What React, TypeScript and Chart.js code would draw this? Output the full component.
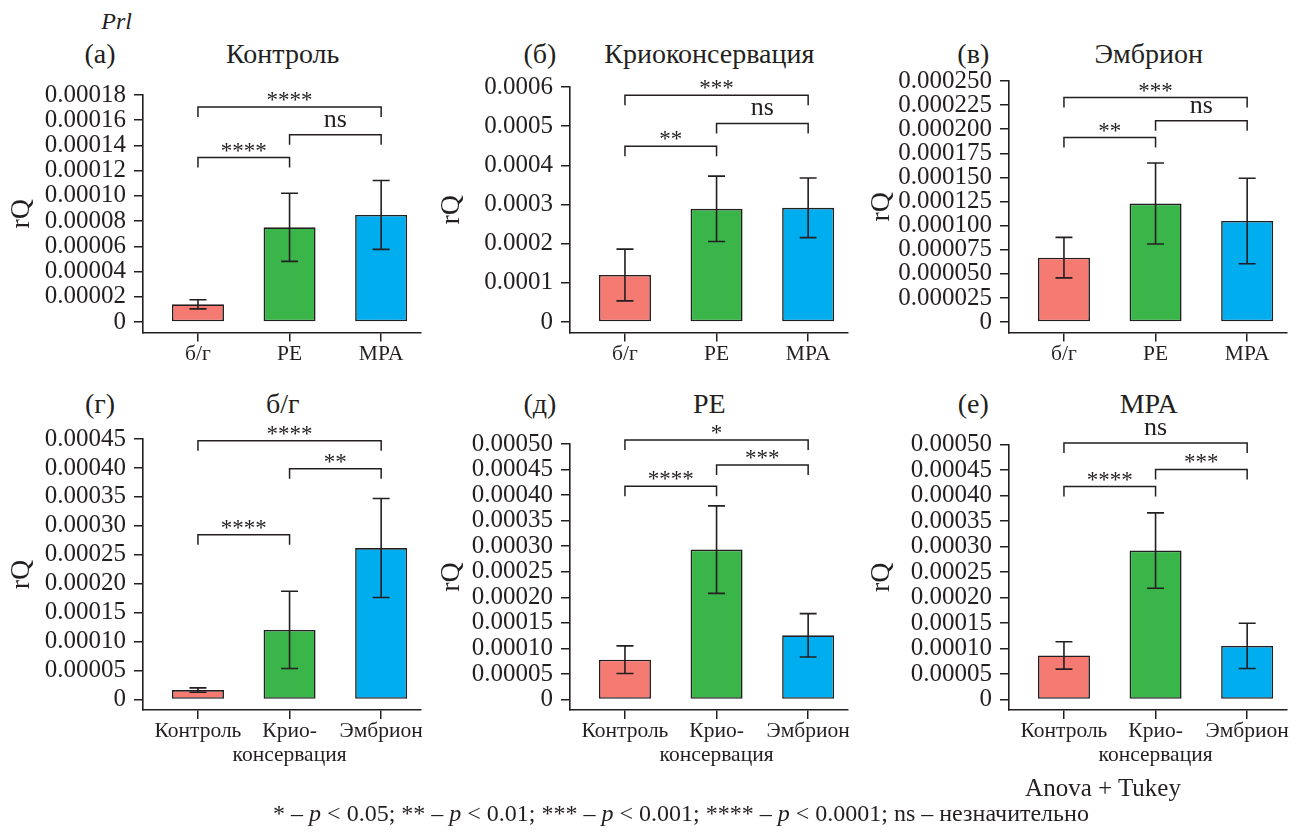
import React, { useEffect, useRef } from 'react';
import { Chart, registerables } from 'chart.js';

Chart.register(...registerables);

const FONT = "'Liberation Serif', 'Times New Roman', serif";
const INK = '#231f20';

// ---------- data ----------
const groupsTop = ['б/г', 'PE', 'MPA'];
const groupsBottom = ['Контроль', ['Крио-', 'консервация'], 'Эмбрион'];
const barColors = ['#F47A72', '#3AB54A', '#00AEEF'];

// (а) Контроль
const meanA = [0.000014, 0.0000751, 0.0000849];
const errA = [0.0000036, 0.000027, 0.0000273];
const ticksA = [0, 0.00002, 0.00004, 0.00006, 0.00008, 0.0001, 0.00012, 0.00014, 0.00016, 0.00018];
const sigA = [
  { from: 0, to: 1, level: 0.0001304, label: '****' },
  { from: 1, to: 2, level: 0.0001484, label: 'ns' },
  { from: 0, to: 2, level: 0.0001705, label: '****' },
];

// (б) Криоконсервация
const meanB = [0.00012, 0.000289, 0.0002915];
const errB = [0.000066, 0.0000835, 0.000076];
const ticksB = [0, 0.0001, 0.0002, 0.0003, 0.0004, 0.0005, 0.0006];
const sigB = [
  { from: 0, to: 1, level: 0.000449, label: '**' },
  { from: 1, to: 2, level: 0.000507, label: 'ns' },
  { from: 0, to: 2, level: 0.000579, label: '***' },
];

// (в) Эмбрион
const meanC = [0.0000668, 0.0001229, 0.0001048];
const errC = [0.000021, 0.000042, 0.0000443];
const ticksC = [0, 0.000025, 0.00005, 0.000075, 0.0001, 0.000125, 0.00015, 0.000175, 0.0002, 0.000225, 0.00025];
const sigC = [
  { from: 0, to: 1, level: 0.0001914, label: '**' },
  { from: 1, to: 2, level: 0.0002089, label: 'ns' },
  { from: 0, to: 2, level: 0.0002328, label: '***' },
];

// (г) б/г
const meanD = [0.0000163, 0.0001202, 0.0002616];
const errD = [0.0000038, 0.0000667, 0.0000855];
const ticksD = [0, 0.00005, 0.0001, 0.00015, 0.0002, 0.00025, 0.0003, 0.00035, 0.0004, 0.00045];
const sigD = [
  { from: 0, to: 1, level: 0.0002848, label: '****' },
  { from: 1, to: 2, level: 0.0003985, label: '**' },
  { from: 0, to: 2, level: 0.000447, label: '****' },
];

// (д) PE
const meanE = [0.0000779, 0.0002933, 0.0001256];
const errE = [0.000027, 0.0000857, 0.0000425];
const ticksE = [0, 0.00005, 0.0001, 0.00015, 0.0002, 0.00025, 0.0003, 0.00035, 0.0004, 0.00045, 0.0005];
const sigE = [
  { from: 0, to: 1, level: 0.0004175, label: '****' },
  { from: 1, to: 2, level: 0.0004588, label: '***' },
  { from: 0, to: 2, level: 0.0005078, label: '*' },
];

// (е) MPA
const meanF = [0.0000863, 0.000292, 0.0001051];
const errF = [0.0000268, 0.000074, 0.0000444];
const ticksF = [0, 0.00005, 0.0001, 0.00015, 0.0002, 0.00025, 0.0003, 0.00035, 0.0004, 0.00045, 0.0005];
const sigF = [
  { from: 0, to: 1, level: 0.0004176, label: '****' },
  { from: 1, to: 2, level: 0.000451, label: '***' },
  { from: 0, to: 2, level: 0.000503, label: 'ns' },
];

// ---------- layout ----------
const panels = [
  { id: 'a', letter: '(а)', title: 'Контроль', cats: groupsTop, means: meanA, errs: errA, ticks: ticksA, dec: 5, sig: sigA,
    rect: { x: 0, y: 58, w: 430, h: 312 }, area: { l: 143, r: 421, t: 95, b: 332.5 }, head: { lx: 100, tx: 282.7, y: 53.5 } },
  { id: 'b', letter: '(б)', title: 'Криоконсервация', cats: groupsTop, means: meanB, errs: errB, ticks: ticksB, dec: 4, sig: sigB,
    rect: { x: 430, y: 58, w: 430, h: 312 }, area: { l: 570, r: 848, t: 87, b: 332.5 }, head: { lx: 540, tx: 709.3, y: 53.5 } },
  { id: 'c', letter: '(в)', title: 'Эмбрион', cats: groupsTop, means: meanC, errs: errC, ticks: ticksC, dec: 6, sig: sigC,
    rect: { x: 860, y: 58, w: 445, h: 312 }, area: { l: 1009, r: 1287, t: 79.5, b: 332.5 }, head: { lx: 973.3, tx: 1148.7, y: 53.5 } },
  { id: 'd', letter: '(г)', title: 'б/г', cats: groupsBottom, means: meanD, errs: errD, ticks: ticksD, dec: 5, sig: sigD,
    rect: { x: 0, y: 408, w: 430, h: 370 }, area: { l: 143, r: 421, t: 439, b: 710 }, head: { lx: 100, tx: 282.7, y: 404 } },
  { id: 'e', letter: '(д)', title: 'PE', cats: groupsBottom, means: meanE, errs: errE, ticks: ticksE, dec: 5, sig: sigE,
    rect: { x: 430, y: 408, w: 430, h: 370 }, area: { l: 570, r: 848, t: 444, b: 710 }, head: { lx: 540, tx: 709.3, y: 404 } },
  { id: 'f', letter: '(е)', title: 'MPA', cats: groupsBottom, means: meanF, errs: errF, ticks: ticksF, dec: 5, sig: sigF,
    rect: { x: 860, y: 408, w: 445, h: 370 }, area: { l: 1009, r: 1287, t: 444.5, b: 710 }, head: { lx: 973.3, tx: 1148.7, y: 404 } },
];

const GAP = 10.5; // px between zero and x axis line
const CAP = 8.5;
const LEG = 10;

function makeAnnotPlugin(p: any) {
  return {
    id: 'annot_' + p.id,
    afterDatasetsDraw(chart: any) {
      const ctx = chart.ctx;
      const xs = chart.scales.x;
      const ys = chart.scales.y;
      ctx.save();
      ctx.strokeStyle = INK;
      ctx.lineWidth = 1.6;
      p.means.forEach((m: number, i: number) => {
        const x = xs.getPixelForValue(i);
        const yt = ys.getPixelForValue(m + p.errs[i]);
        const yb = ys.getPixelForValue(m - p.errs[i]);
        ctx.beginPath();
        ctx.moveTo(x, yt);
        ctx.lineTo(x, yb);
        ctx.moveTo(x - CAP, yt);
        ctx.lineTo(x + CAP, yt);
        ctx.moveTo(x - CAP, yb);
        ctx.lineTo(x + CAP, yb);
        ctx.stroke();
      });
      ctx.restore();
    },
    afterDraw(chart: any) {
      const ctx = chart.ctx;
      const xs = chart.scales.x;
      const ys = chart.scales.y;
      ctx.save();
      ctx.strokeStyle = INK;
      ctx.fillStyle = INK;
      ctx.lineWidth = 1.5;
      p.sig.forEach((s: any) => {
        const x1 = xs.getPixelForValue(s.from);
        const x2 = xs.getPixelForValue(s.to);
        const y = ys.getPixelForValue(s.level);
        ctx.beginPath();
        ctx.moveTo(x1, y + LEG);
        ctx.lineTo(x1, y);
        ctx.lineTo(x2, y);
        ctx.lineTo(x2, y + LEG);
        ctx.stroke();
        const ns = s.label === 'ns';
        ctx.font = (ns ? '26px ' : '23px ') + FONT;
        ctx.textAlign = 'center';
        ctx.textBaseline = 'alphabetic';
        ctx.fillText(s.label, (x1 + x2) / 2, y - (ns ? 8 : 0));
      });
      ctx.restore();
    },
  };
}

function makeConfig(p: any): any {
  const r = p.rect;
  const a = p.area;
  const h = a.b - a.t;
  const yMax = p.ticks[p.ticks.length - 1];
  const yMin = (-yMax * GAP) / (h - GAP);
  const gridOpts = { display: true, offset: false, drawOnChartArea: false, drawTicks: true, tickLength: 9, color: INK, lineWidth: 1.5 };
  const borderOpts = { display: true, color: INK, width: 1.6 };
  return {
    type: 'bar',
    data: {
      datasets: [
        {
          data: p.means.map((v: number, i: number) => ({ x: i, y: v })),
          backgroundColor: barColors,
          borderColor: INK,
          borderWidth: 1.6,
          borderSkipped: false,
          barPercentage: 0.568,
          categoryPercentage: 1,
        },
      ],
    },
    options: {
      responsive: false,
      animation: false,
      events: [],
      layout: { padding: { left: 0, top: a.t - r.y, right: r.x + r.w - a.r, bottom: 0 } },
      plugins: { legend: { display: false }, tooltip: { enabled: false }, title: { display: false } },
      scales: {
        x: {
          type: 'linear',
          offset: false,
          min: -0.6,
          max: 2.435,
          afterBuildTicks: (s: any) => {
            s.ticks = p.cats.map((_: any, i: number) => ({ value: i }));
          },
          afterFit: (s: any) => {
            s.height = r.y + r.h - a.b;
          },
          grid: gridOpts,
          border: borderOpts,
          ticks: {
            callback: (_v: any, i: number) => p.cats[i],
            font: { family: FONT, size: 21.5, lineHeight: 1.1 },
            color: INK,
            padding: 1,
            maxRotation: 0,
            autoSkip: false,
          },
        },
        y: {
          type: 'linear',
          offset: false,
          min: yMin,
          max: yMax,
          afterBuildTicks: (s: any) => {
            s.ticks = p.ticks.map((v: number) => ({ value: v }));
          },
          afterFit: (s: any) => {
            s.width = a.l - r.x;
          },
          grid: gridOpts,
          border: borderOpts,
          ticks: {
            callback: (v: number) => (v === 0 ? '0' : Number(v).toFixed(p.dec)),
            font: { family: FONT, size: 25 },
            color: INK,
            padding: 8,
            autoSkip: false,
          },
          title: { display: true, text: 'rQ', font: { family: FONT, size: 28 }, color: INK, padding: { top: 5, bottom: 0 } },
        },
      },
    },
    plugins: [makeAnnotPlugin(p)],
  };
}

function Panel({ p }: { p: any }) {
  const ref = useRef<HTMLCanvasElement | null>(null);
  useEffect(() => {
    const chart = new Chart(ref.current as HTMLCanvasElement, makeConfig(p));
    return () => chart.destroy();
  }, [p]);
  return (
    <canvas
      ref={ref}
      width={p.rect.w}
      height={p.rect.h}
      style={{ position: 'absolute', left: p.rect.x, top: p.rect.y, width: p.rect.w, height: p.rect.h }}
    />
  );
}

function Label({ x, y, size, children, italic }: any) {
  return (
    <div
      style={{
        position: 'absolute',
        left: x,
        top: y,
        transform: 'translate(-50%, -50%)',
        fontSize: size,
        lineHeight: 1,
        whiteSpace: 'nowrap',
        fontStyle: italic ? 'italic' : 'normal',
      }}
    >
      {children}
    </div>
  );
}

export default function App() {
  return (
    <div
      style={{
        position: 'absolute',
        left: 0,
        top: 0,
        width: 1305,
        height: 834,
        background: '#ffffff',
        fontFamily: FONT,
        color: INK,
        overflow: 'hidden',
      }}
    >
      <Label x={116.7} y={20.7} size={24} italic>
        Prl
      </Label>
      {panels.map((p) => (
        <React.Fragment key={p.id}>
          <Label x={p.head.lx} y={p.head.y} size={28}>
            {p.letter}
          </Label>
          <Label x={p.head.tx} y={p.head.y} size={28}>
            {p.title}
          </Label>
          <Panel p={p} />
        </React.Fragment>
      ))}
      <Label x={1103} y={787} size={25}>
        Anova + Tukey
      </Label>
      <Label x={681} y={813} size={24}>
        * – <i>p</i> &lt; 0.05; ** – <i>p</i> &lt; 0.01; *** – <i>p</i> &lt; 0.001; **** – <i>p</i> &lt; 0.0001; ns – незначительно
      </Label>
    </div>
  );
}
